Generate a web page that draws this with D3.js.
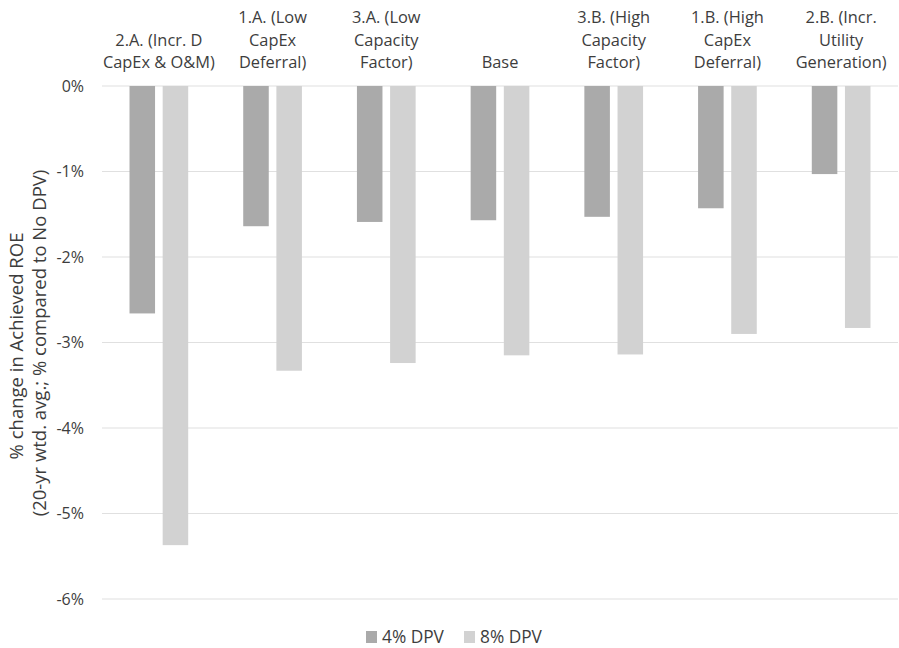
<!DOCTYPE html>
<html>
<head>
<meta charset="utf-8">
<script src="https://cdn.jsdelivr.net/npm/d3@7/dist/d3.min.js"></script>
<style>
  html, body { margin: 0; padding: 0; background: #fff; }
  svg { display: block; font-family: "Open Sans", "Noto Sans", sans-serif; }
</style>
</head>
<body>
<svg id="chart" width="899" height="648"></svg>
<script>
// Scenario categories (multi-line labels)
const categories = [
  ["2.A. (Incr. D", "CapEx & O&M)"],
  ["1.A. (Low", "CapEx", "Deferral)"],
  ["3.A. (Low", "Capacity", "Factor)"],
  ["Base"],
  ["3.B. (High", "Capacity", "Factor)"],
  ["1.B. (High", "CapEx", "Deferral)"],
  ["2.B. (Incr.", "Utility", "Generation)"]
];
const seriesNames = ["4% DPV", "8% DPV"];
// % change in achieved ROE
const dpv4 = [-2.66, -1.64, -1.59, -1.57, -1.53, -1.43, -1.03];
const dpv8 = [-5.37, -3.33, -3.24, -3.15, -3.14, -2.90, -2.83];
const yTicks = [0, -1, -2, -3, -4, -5, -6];

const colors = ["#aaaaaa", "#d2d2d2"];
const textColor = "#3d3d3d";
const svg = d3.select("#chart");
const margin = { left: 102, right: 1, top: 86, bottom: 49 };
const W = 899, H = 648;

const keys = categories.map((c, i) => "c" + i);
const x = d3.scaleBand().domain(keys).range([margin.left, W - margin.right]).paddingInner(0).paddingOuter(0);
const y = d3.scaleLinear().domain([0, -6]).range([margin.top, H - margin.bottom]);

const groupW = 58.7;
const xs = d3.scaleBand().domain(seriesNames).range([0, groupW]).paddingInner(0.23);

// gridlines
svg.append("g")
  .selectAll("line").data(yTicks).join("line")
  .attr("x1", margin.left).attr("x2", W - margin.right)
  .attr("y1", d => y(d)).attr("y2", d => y(d))
  .attr("stroke", "#e0e0e0").attr("stroke-width", 1.2);

// y axis labels
const yAxis = d3.axisLeft(y).tickValues(yTicks).tickFormat(d => d + "%").tickSize(0).tickPadding(0);
const ya = svg.append("g").attr("transform", `translate(${margin.left - 18},0)`).call(yAxis);
ya.select(".domain").remove();
ya.selectAll("text").attr("font-size", 16).attr("fill", textColor)
  .attr("font-family", "\"Open Sans\", sans-serif");

// bars
const data = categories.map((c, i) => ({ key: keys[i], vals: [dpv4[i], dpv8[i]] }));
const groups = svg.append("g").selectAll("g").data(data).join("g")
  .attr("transform", d => `translate(${x(d.key) + (x.bandwidth() - groupW) / 2},0)`);
groups.selectAll("rect").data(d => d.vals.map((v, j) => ({ v, s: seriesNames[j], j })))
  .join("rect")
  .attr("x", d => xs(d.s))
  .attr("width", xs.bandwidth())
  .attr("y", y(0))
  .attr("height", d => y(d.v) - y(0))
  .attr("fill", d => colors[d.j]);

// category labels above plot
const lab = svg.append("g").selectAll("text").data(data).join("text")
  .attr("text-anchor", "middle")
  .attr("font-size", 16.4)
  .attr("fill", textColor)
  .attr("x", d => x(d.key) + x.bandwidth() / 2);
lab.each(function(d, i) {
  const lines = categories[i];
  const t = d3.select(this);
  const baseY = 68;
  lines.forEach((ln, k) => {
    t.append("tspan")
      .attr("x", x(d.key) + x.bandwidth() / 2)
      .attr("y", baseY - (lines.length - 1 - k) * 22.5)
      .text(ln);
  });
});

// y axis title
const yt = svg.append("text")
  .attr("transform", `translate(0,${y(-3)}) rotate(-90)`)
  .attr("text-anchor", "middle")
  .attr("font-size", 18.5)
  .attr("fill", textColor);
yt.append("tspan").attr("x", -3.5).attr("y", 23).text("% change in Achieved ROE");
yt.append("tspan").attr("x", -0.5).attr("y", 46).text("(20-yr wtd. avg.; % compared to No DPV)");

// legend
const legend = svg.append("g").attr("transform", "translate(366,631)");
const legendPos = [0, 98];
seriesNames.forEach((s, j) => {
  const g = legend.append("g").attr("transform", `translate(${legendPos[j]},0)`);
  g.append("rect").attr("width", 11).attr("height", 12).attr("fill", colors[j]);
  g.append("text").attr("x", 16).attr("y", 12).attr("font-size", 17.3).attr("fill", textColor).text(s);
});
</script>
</body>
</html>
